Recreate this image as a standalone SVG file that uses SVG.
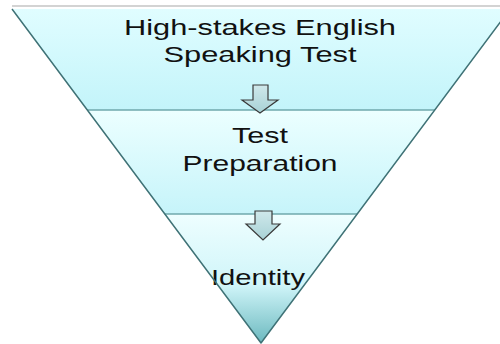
<svg xmlns="http://www.w3.org/2000/svg" width="500" height="344" viewBox="0 0 500 344">
  <defs>
    <linearGradient id="gTop" x1="0" y1="0" x2="0" y2="1">
      <stop offset="0" stop-color="#e0fdff"/>
      <stop offset="1" stop-color="#c3f4fa"/>
    </linearGradient>
    <linearGradient id="gMid" x1="0" y1="0" x2="0" y2="1">
      <stop offset="0" stop-color="#ecffff"/>
      <stop offset="1" stop-color="#c6f4fa"/>
    </linearGradient>
    <linearGradient id="gBot" x1="0" y1="0" x2="0" y2="1">
      <stop offset="0" stop-color="#eefeff"/>
      <stop offset="0.55" stop-color="#d0f5f9"/>
      <stop offset="1" stop-color="#6cb9bf"/>
    </linearGradient>
    <linearGradient id="gArrow" x1="0" y1="0" x2="0" y2="1">
      <stop offset="0" stop-color="#cfe8eb"/>
      <stop offset="1" stop-color="#a8d2d6"/>
    </linearGradient>
  </defs>
  <style>
    .edge { stroke: #3f7276; stroke-width: 1.5; stroke-linejoin: round; }
    .divider { stroke: #6fa9ad; stroke-width: 1.6; fill: none; }
    .label { font-family: "Liberation Sans", Arial, sans-serif; font-size: 22px; fill: #111; text-anchor: middle; }
    .arrow { fill: url(#gArrow); stroke: #3a3a3a; stroke-width: 1.2; stroke-linejoin: miter; }
  </style>

  <!-- slide border line -->
  <line x1="12" y1="6" x2="500" y2="6" stroke="#c4c4c4" stroke-width="1.5"/>

  <!-- funnel tiers -->
  <g id="tier-speaking-test">
    <polygon points="12,9 510,9 434.7,110 87.3,110" fill="url(#gTop)"/>
    <text class="label" x="260" y="35" textLength="272" lengthAdjust="spacingAndGlyphs">High-stakes English</text>
    <text class="label" x="260" y="62" textLength="193" lengthAdjust="spacingAndGlyphs">Speaking Test</text>
  </g>
  <g id="tier-test-preparation">
    <polygon points="87.3,110 434.7,110 357.2,214 164.8,214" fill="url(#gMid)"/>
    <text class="label" x="260" y="143" textLength="56" lengthAdjust="spacingAndGlyphs">Test</text>
    <text class="label" x="260" y="171" textLength="155" lengthAdjust="spacingAndGlyphs">Preparation</text>
  </g>
  <g id="tier-identity">
    <polygon points="164.8,214 357.2,214 261,343" fill="url(#gBot)"/>
    <text class="label" x="258" y="285" textLength="94" lengthAdjust="spacingAndGlyphs">Identity</text>
  </g>

  <!-- outline and tier dividers -->
  <g id="outline">
    <line class="divider" x1="87.3" y1="110" x2="434.7" y2="110"/>
    <line class="divider" x1="164.8" y1="214" x2="357.2" y2="214"/>
    <polyline class="edge" fill="none" points="12,9 261,343 510,9"/>
  </g>

  <!-- block arrows between tiers -->
  <g id="connectors">
    <path class="arrow" d="M253,85 H268 V100 H278 L260,113 L242,100 H253 Z"/>
    <path class="arrow" d="M255,211 H272 V224 H280 L263,240 L246,224 H255 Z"/>
  </g>
</svg>
